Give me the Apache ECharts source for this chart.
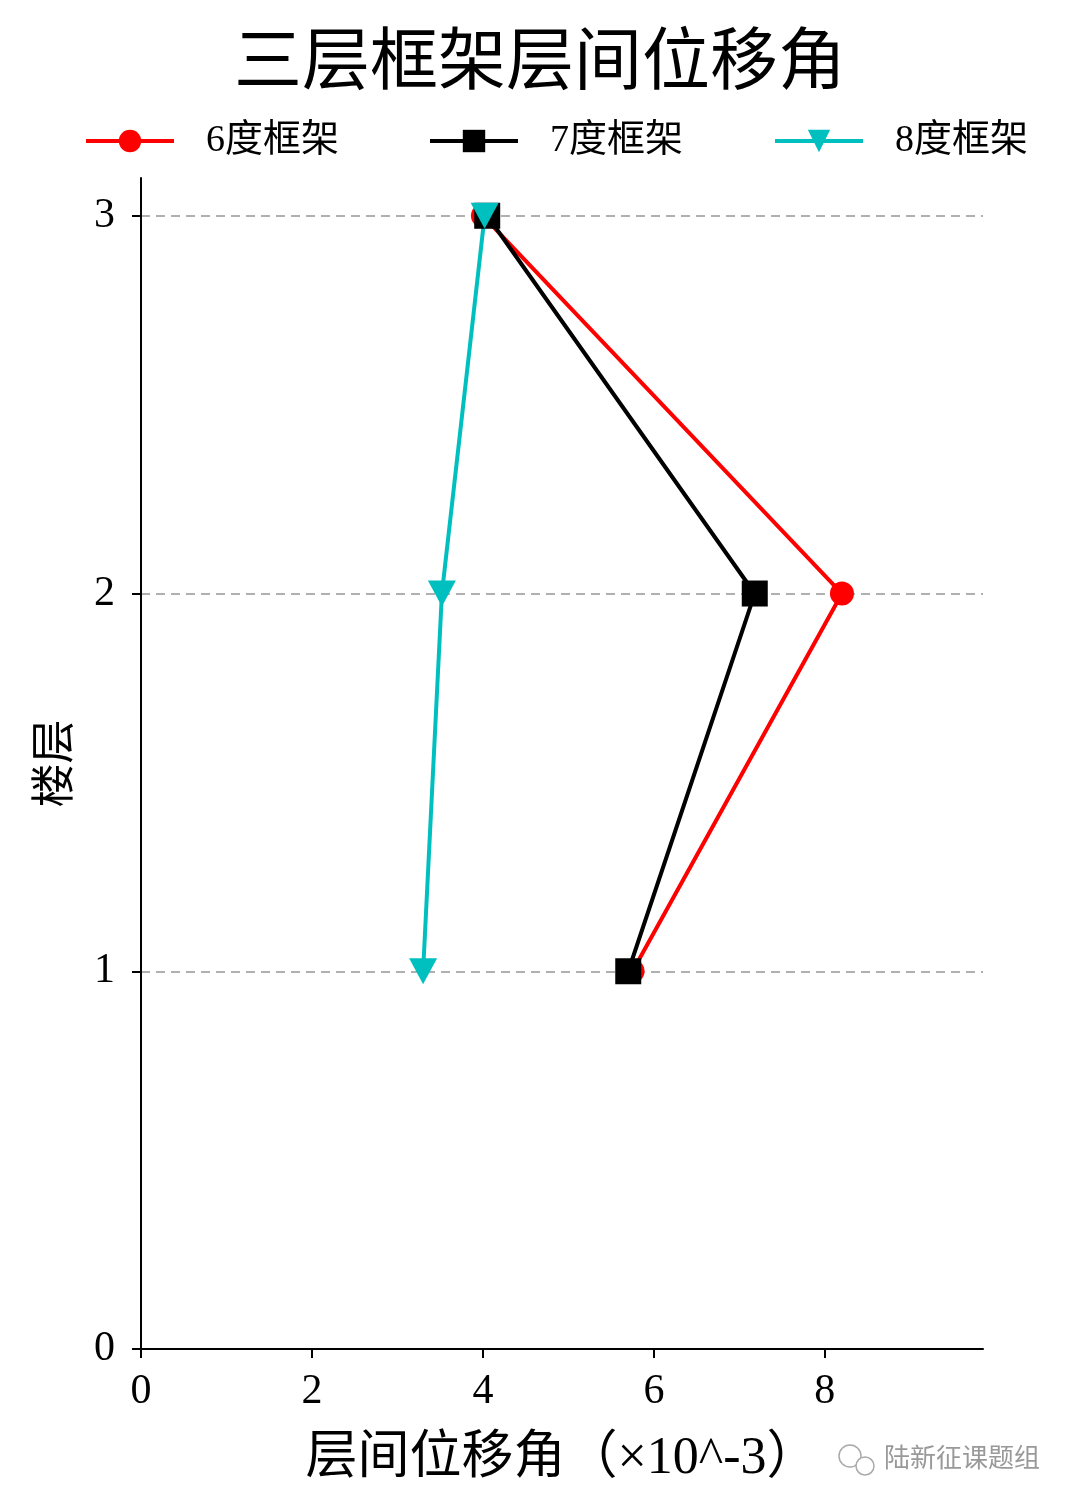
<!DOCTYPE html>
<html><head><meta charset="utf-8">
<script src="https://cdn.jsdelivr.net/npm/echarts@6/dist/echarts.min.js"></script>
<style>html,body{margin:0;padding:0;background:#fff}#c{width:1080px;height:1508px}</style>
</head><body><div id="c"></div>
<script>
const titleText = '三层框架层间位移角';
const xName = '层间位移角（×10^-3）';
const yName = '楼层';
const seriesNames = ['6度框架', '7度框架', '8度框架'];
const floors = [1, 2, 3];
const deg6 = [5.75, 8.20, 4.00];
const deg7 = [5.70, 7.18, 4.05];
const deg8 = [3.30, 3.52, 4.02];
const xTicks = [0, 2, 4, 6, 8];
const yTicks = [0, 1, 2, 3];

const FF = "'Liberation Serif', 'Noto Sans CJK SC', serif";
const pairs = arr => arr.map((v, i) => [v, floors[i]]);
const chart = echarts.init(document.getElementById('c'));
const legendBase = (name, left) => ({
  data: [name], left: left, top: 117, itemWidth: 88, itemHeight: 28,
  lineStyle: { width: 4 },
  textStyle: { fontFamily: FF, fontSize: 38, color: '#000', padding: [0, 0, 0, 27] }
});
chart.setOption({
  animation: false,
  backgroundColor: '#fff',
  title: { text: titleText, left: 'center', top: 27,
    textStyle: { fontFamily: FF, fontSize: 68, fontWeight: 'normal', color: '#000' } },
  legend: [legendBase(seriesNames[0], 79), legendBase(seriesNames[1], 423), legendBase(seriesNames[2], 768)],
  grid: { left: 141, right: 97, top: 178, bottom: 159, containLabel: false },
  xAxis: {
    type: 'value', min: 0, max: 9.85, interval: 2,
    name: xName, nameLocation: 'middle', nameGap: 84,
    nameTextStyle: { fontFamily: FF, fontSize: 52, color: '#000' },
    axisLine: { show: true, lineStyle: { color: '#000', width: 2 } },
    axisTick: { show: true, length: 9, lineStyle: { color: '#000', width: 2 }, customValues: xTicks },
    axisLabel: { fontFamily: FF, fontSize: 42, color: '#000', margin: 22, customValues: xTicks },
    splitLine: { show: false }
  },
  yAxis: {
    type: 'value', min: 0, max: 3.1, interval: 1,
    name: yName, nameLocation: 'middle', nameGap: 62, nameRotate: 90,
    nameTextStyle: { fontFamily: FF, fontSize: 44, color: '#000' },
    axisLine: { show: true, lineStyle: { color: '#000', width: 2 } },
    axisTick: { show: true, length: 9, lineStyle: { color: '#000', width: 2 }, customValues: yTicks },
    axisLabel: { fontFamily: FF, fontSize: 42, color: '#000', margin: 26, customValues: yTicks },
    splitLine: { show: true, showMinLine: false, showMaxLine: true,
      lineStyle: { color: '#b0b0b0', width: 2, type: [9, 6] } }
  },
  series: [
    { name: seriesNames[0], type: 'line', data: pairs(deg6), symbol: 'circle', symbolSize: 24,
      lineStyle: { color: '#ff0000', width: 4 }, itemStyle: { color: '#ff0000' } },
    { name: seriesNames[1], type: 'line', data: pairs(deg7), symbol: 'rect', symbolSize: 26,
      lineStyle: { color: '#000000', width: 4 }, itemStyle: { color: '#000000' } },
    { name: seriesNames[2], type: 'line', data: pairs(deg8), symbol: 'triangle', symbolRotate: 180, symbolSize: [28, 26],
      lineStyle: { color: '#00bfbf', width: 4 }, itemStyle: { color: '#00bfbf' } }
  ],
  graphic: [
    { type: 'circle', shape: { cx: 850, cy: 1456, r: 11 }, style: { fill: 'none', stroke: '#aaa', lineWidth: 1.5 } },
    { type: 'circle', shape: { cx: 865, cy: 1466, r: 9 }, style: { fill: '#fff', stroke: '#aaa', lineWidth: 1.5 } },
    { type: 'text', left: 884, top: 1444,
      style: { text: '陆新征课题组', font: "26px 'Noto Sans CJK SC'", fill: '#999' } }
  ]
});
</script></body></html>
